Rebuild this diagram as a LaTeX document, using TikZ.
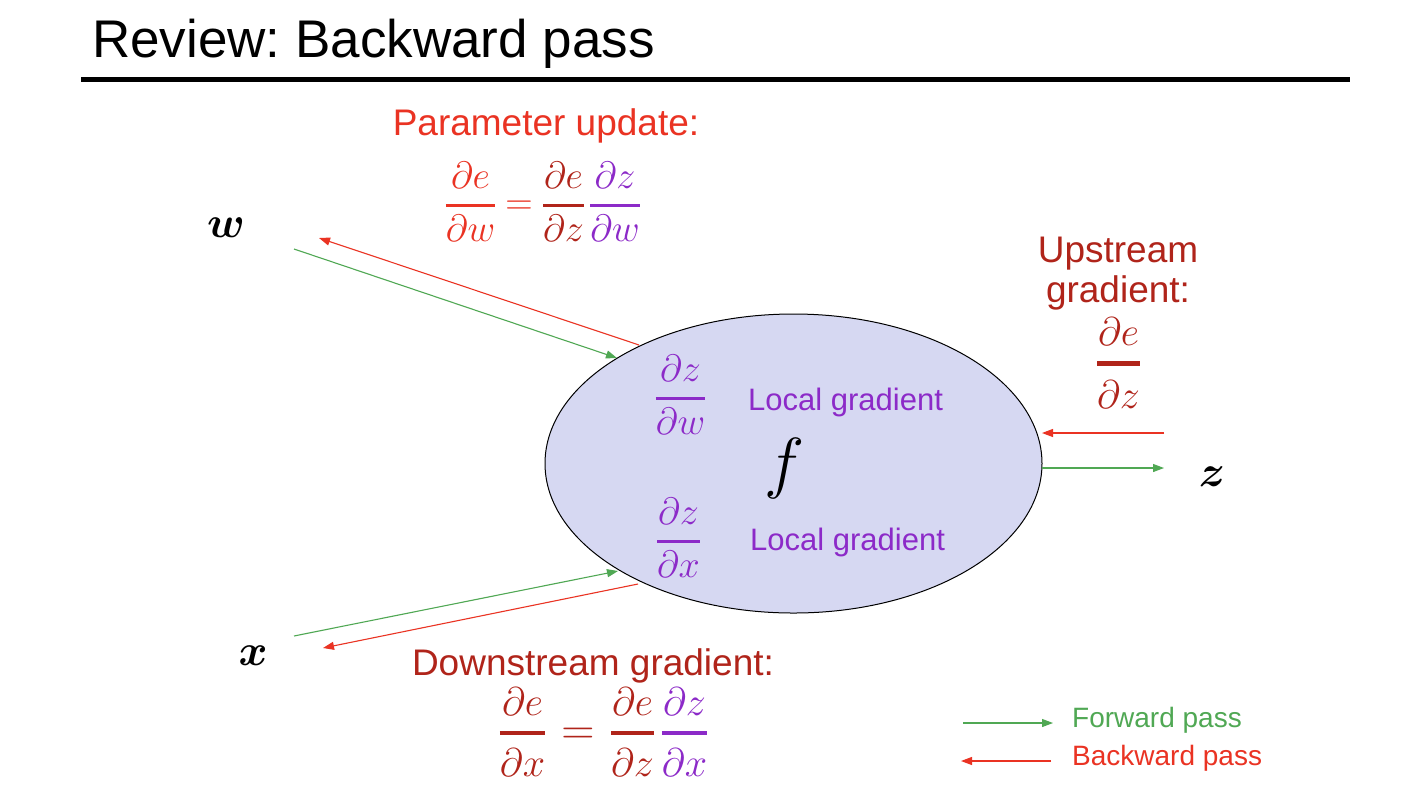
\RequirePackage{fix-cm}
\documentclass[tikz,border=0pt]{standalone}
\usepackage{amsmath}
\usepackage[no-math]{fontspec}
\setmainfont{Liberation Sans}
\usetikzlibrary{shapes.geometric,arrows.meta}
\frenchspacing
\definecolor{cred}{RGB}{234,51,35}
\definecolor{cdark}{RGB}{176,36,26}
\definecolor{cpurp}{RGB}{140,42,200}
\definecolor{cgreen}{RGB}{80,168,84}
\definecolor{cfill}{RGB}{214,216,242}
\newcommand\fsz[1]{\fontsize{#1}{#1}\selectfont}
\newcommand\pfr[3]{$\displaystyle{\partial #1\above #3\partial #2}$}
\tikzset{
  txt/.style={inner sep=0pt, anchor=base},
  fwd/.style={draw=cgreen, line width=1.1pt, -{Triangle[length=11pt,width=8pt]}},
  bwd/.style={draw=cred, line width=1.1pt, -{Triangle[length=11pt,width=8pt]}},
  lbl/.style={txt, font=\fsz{37}},
  lgr/.style={txt, anchor=base west, font=\fsz{31}, text=cpurp},
  frs/.style={txt, font=\fsz{38}},
  frb/.style={txt, font=\fsz{40}},
  var/.style={txt, font=\fsz{44}},
}
\begin{document}
\begin{tikzpicture}[x=1pt,y=-1pt]
\useasboundingbox (0,0) rectangle (1410,804);
\fill[white] (0,0) rectangle (1410,804);
% title
\node[txt, anchor=base west, font=\fsz{53}] (title) at (92,57) {Review: Backward pass};
\draw[line width=4.5pt] (81,79.5) coordinate (r1) -- (1350,79.5) coordinate (r2);
% ellipse
\node[ellipse, draw=black, line width=1pt, fill=cfill, minimum width=497pt, minimum height=299pt, inner sep=0pt] (fn) at (793.5,463.5) {};
\node[inner sep=0pt, font=\fsz{68}] (f) at (785,468) {$f$};
% local gradients
\node[frs, text=cpurp] (dzdw) at (680.5,407.5) {\pfr{z}{w}{3pt}};
\node[lgr] (lg1) at (748,410) {Local gradient};
\node[frs, text=cpurp] (dzdx) at (678.5,550.5) {\pfr{z}{x}{3pt}};
\node[lgr] (lg2) at (750,550) {Local gradient};
% variables
\node[var] (w) at (226,237) {$\boldsymbol{w}$};
\node[var] (x) at (253,665) {$\boldsymbol{x}$};
\node[var] (z) at (1212,486) {$\boldsymbol{z}$};
% parameter update
\node[lbl, text=cred] (pu) at (546,135) {Parameter update:};
\node[frs, text=cred] (pa) at (470.5,214.5) {\pfr{e}{w}{3pt}};
\node[frs, text=cred] (pe) at (519,214.5) {$=$};
\node[frs, text=cdark] (pb) at (563.5,214.5) {\pfr{e}{z}{3pt}};
\node[frs, text=cpurp] (pc) at (615,214.5) {\pfr{z}{w}{3pt}};
% upstream
\node[lbl, text=cdark] (up1) at (1118,262) {Upstream};
\node[lbl, text=cdark] (up2) at (1118,302) {gradient:};
\node[frb, text=cdark] (ua) at (1118.5,373) {\pfr{e}{z}{5pt}};
% downstream
\node[lbl, text=cdark] (dn) at (593,675) {Downstream gradient:};
\node[frb, text=cdark] (da) at (522.5,743) {\pfr{e}{x}{4.5pt}};
\node[frb, text=cdark, font=\fsz{46}] (de) at (578,744.5) {$=$};
\node[frb, text=cdark] (db) at (632.5,743) {\pfr{e}{z}{4.5pt}};
\node[frb, text=cpurp] (dc) at (684.5,743) {\pfr{z}{x}{4.5pt}};
% arrow end points
\coordinate (w1) at (294,249);  \coordinate (w2) at (617,358);
\coordinate (w3) at (639,345);  \coordinate (w4) at (319,238);
\coordinate (x1) at (294,636);  \coordinate (x2) at (618,571);
\coordinate (x3) at (638,584);  \coordinate (x4) at (323,648);
\coordinate (z1) at (1164,433); \coordinate (z2) at (1042,433);
\coordinate (z3) at (1042,468); \coordinate (z4) at (1164,468);
\draw[fwd] (w1) -- (w2);
\draw[bwd] (w3) -- (w4);
\draw[fwd] (x1) -- (x2);
\draw[bwd] (x3) -- (x4);
\draw[bwd] (z1) -- (z2);
\draw[fwd] (z3) -- (z4);
% legend
\coordinate (l1) at (963,723); \coordinate (l2) at (1053,723);
\coordinate (l3) at (1051,761); \coordinate (l4) at (961,761);
\draw[fwd] (l1) -- (l2);
\draw[bwd] (l3) -- (l4);
\node[txt, anchor=base west, font=\fsz{28}, text=cgreen] (fp) at (1072,727) {Forward pass};
\node[txt, anchor=base west, font=\fsz{28}, text=cred] (bp) at (1072,765) {Backward pass};
\end{tikzpicture}
\end{document}
